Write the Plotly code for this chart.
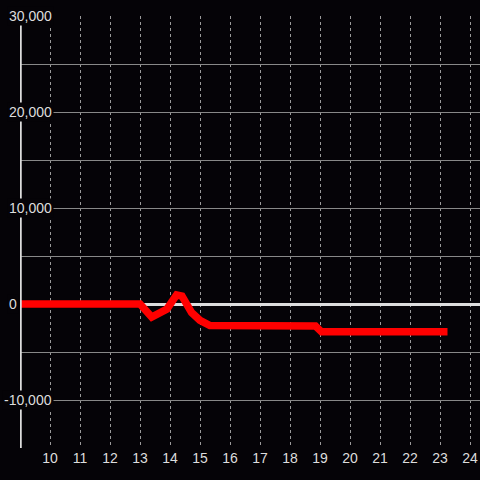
import plotly.graph_objects as go

# data
hours = [9, 13.0, 13.39, 13.9, 14.22, 14.4, 14.72, 15.0, 15.33, 18.85, 19.05, 23.25]
values = [0, 0, -1350, -520, 940, 830, -900, -1700, -2250, -2300, -2900, -2900]

x_ticks = [10, 11, 12, 13, 14, 15, 16, 17, 18, 19, 20, 21, 22, 23, 24]
y_label_vals = [30000, 20000, 10000, 0, -10000]
y_label_text = ["30,000", "20,000", "10,000", "0", "-10,000"]

BG = "#050307"
TXT = "#dddddd"

fig = go.Figure()
fig.add_trace(go.Scatter(
    x=hours, y=values, mode="lines",
    line=dict(color="#ff0000", width=7.5),
    hoverinfo="skip", showlegend=False,
))

fig.update_layout(
    width=480, height=480,
    margin=dict(l=20, r=0, t=16, b=32),
    paper_bgcolor=BG, plot_bgcolor=BG,
    font=dict(family="Liberation Sans, Arial, sans-serif", size=14, color=TXT),
    showlegend=False,
)

fig.update_xaxes(
    range=[9, 24.3333], tickmode="array", tickvals=x_ticks,
    ticktext=[str(t) for t in x_ticks],
    showgrid=True, gridcolor="#9a9a9a", gridwidth=1, griddash="dot",
    zeroline=False, showline=False, ticks="",
    tickfont=dict(size=14, color=TXT),
)
fig.update_yaxes(
    range=[-15000, 30000], dtick=5000, tick0=0,
    showgrid=True, gridcolor="#888888", gridwidth=1,
    zeroline=True, zerolinecolor="#dddddd", zerolinewidth=3,
    showticklabels=False, ticks="", showline=False,
)

# y axis line
fig.add_shape(type="line", xref="x", yref="y", x0=9, x1=9, y0=-15000, y1=30000,
              line=dict(color="#dddddd", width=3.5), layer="above")

for v, t in zip(y_label_vals, y_label_text):
    fig.add_annotation(
        x=0, xref="paper", y=v, yref="y",
        text=t, showarrow=False, xanchor="left", yanchor="middle",
        xshift=-13 - (5 if t.startswith("-") else 0),
        bgcolor=BG, borderpad=1,
        font=dict(size=14, color=TXT),
    )

fig.write_html(
    "out.html",
    config={"displayModeBar": False, "staticPlot": True},
    post_script="document.documentElement.style.margin='0';"
                "document.documentElement.style.overflow='hidden';"
                "document.body.style.margin='0';"
                "document.body.style.overflow='hidden';"
                "document.body.style.background='" + BG + "';",
)
